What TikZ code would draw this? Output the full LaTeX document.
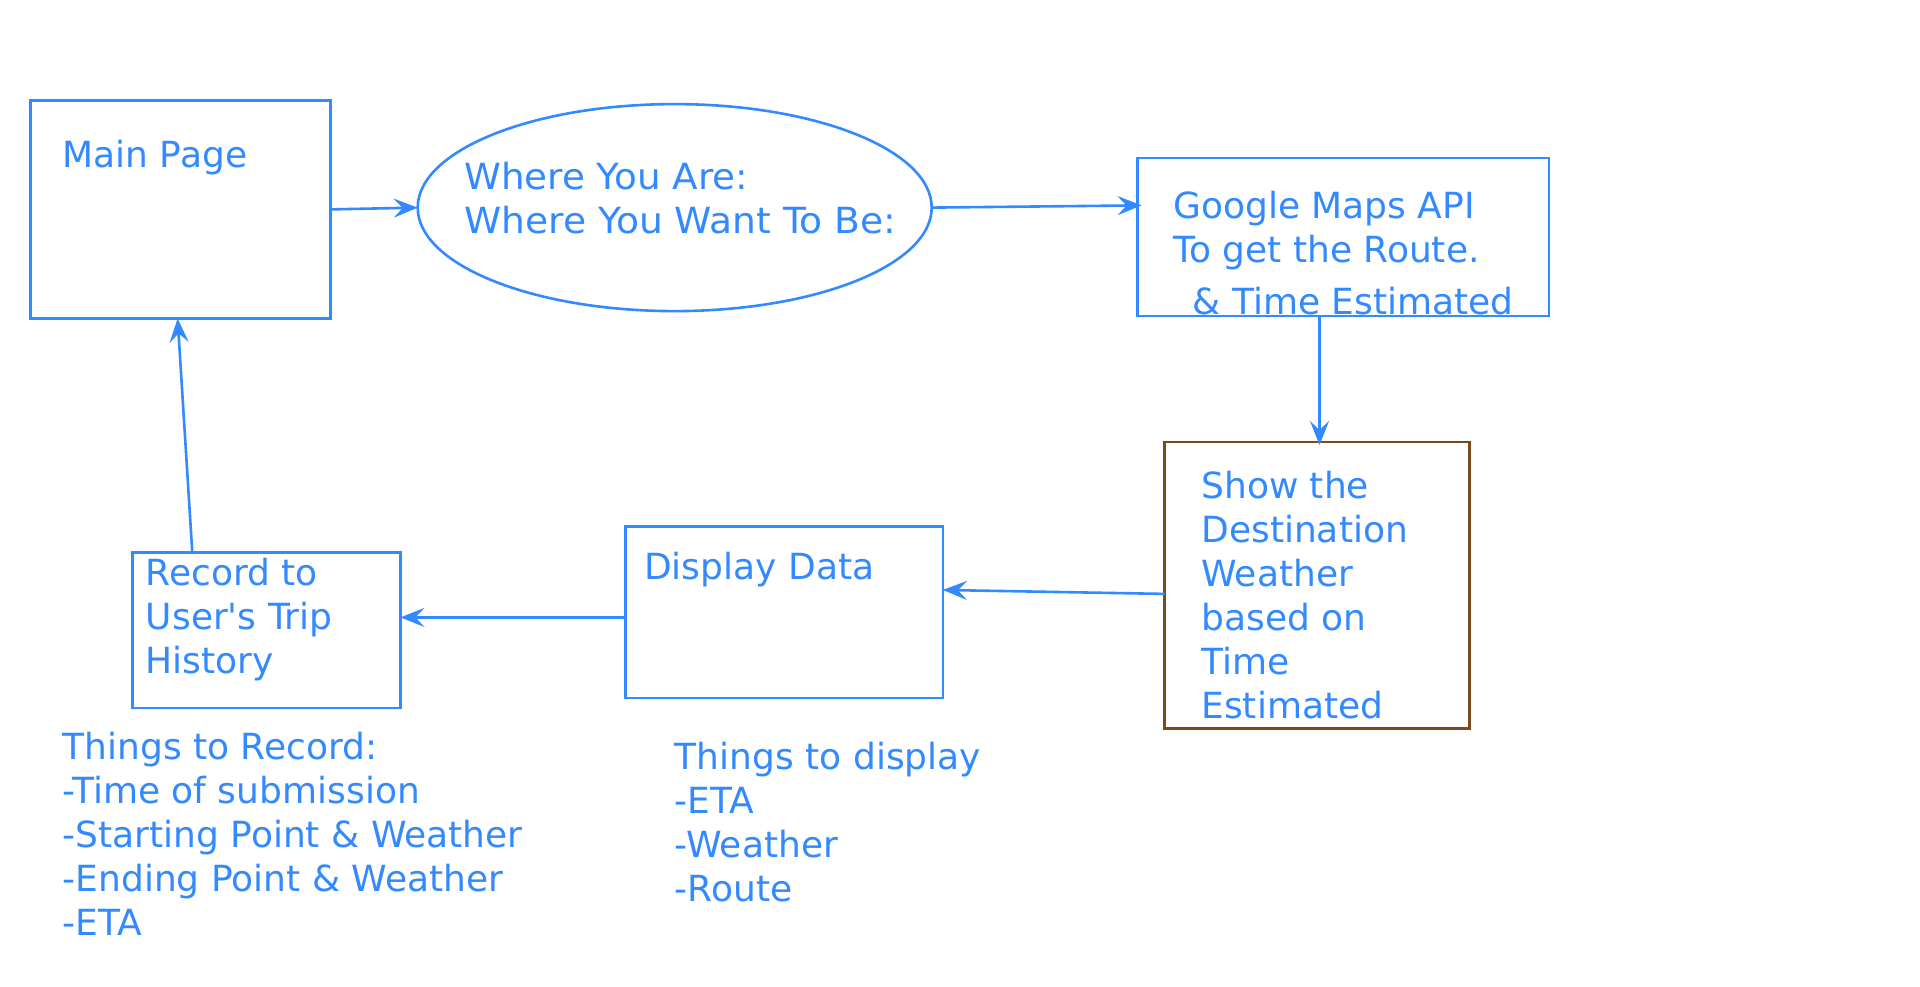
\documentclass[tikz,border=0pt]{standalone}
\usepackage{fontspec}
\setmainfont{DejaVu Sans}
\usetikzlibrary{arrows.meta,calc,shapes.geometric}
\definecolor{lblue}{HTML}{3389FF}
\definecolor{lbrown}{HTML}{7A4A18}
\tikzset{
  box/.style={draw=lblue, line width=2.6pt, rectangle, inner sep=0pt, outer sep=0pt, anchor=north west},
  lbl/.style={text=lblue, font=\fontsize{36}{44}\selectfont, inner sep=0pt, anchor=base west},
  conn/.style={draw=lblue, line width=2.6pt, -{Stealth[length=24pt,width=19pt,inset=9pt]}},
}
\begin{document}
\begin{tikzpicture}[x=1pt,y=-1pt]
\useasboundingbox (0,0) rectangle (1920,986);
\fill[white] (0,0) rectangle (1920,986);

% shapes
\node[box, minimum width=300pt, minimum height=218pt] (main) at (30.6,100.4) {};
\node[draw=lblue, line width=2.6pt, ellipse, minimum width=514pt, minimum height=207pt, inner sep=0pt, outer sep=0pt] (ell) at (674.7,207.6) {};
\node[box, minimum width=411.4pt, minimum height=158pt] (goo) at (1137.6,158) {};
\node[box, draw=lbrown, minimum width=305pt, minimum height=286.6pt] (show) at (1164.5,442) {};
\node[box, minimum width=317.2pt, minimum height=171.5pt] (disp) at (625.7,526.5) {};
\node[box, minimum width=268.2pt, minimum height=155.5pt] (rec) at (132.2,552.3) {};

% texts
\node[lbl] (tmain) at (62.4,167.8) {Main Page};
\node[lbl, xscale=1.035] (tell1) at (464,189.8) {Where You Are:};
\node[lbl, xscale=1.045] (tell2) at (464,233.8) {Where You Want To Be:};
\node[lbl] (tgoo1) at (1173,218) {Google Maps API};
\node[lbl] (tgoo2) at (1173,262) {To get the Route.};
\node[lbl] (tgoo3) at (1192.7,314.7) {\& Time Estimated};
\node[lbl] (tshow1) at (1201.2,498.4) {Show the};
\node[lbl] (tshow2) at (1201.2,542.4) {Destination};
\node[lbl] (tshow3) at (1201.2,586.4) {Weather};
\node[lbl] (tshow4) at (1201.2,630.4) {based on};
\node[lbl] (tshow5) at (1201.2,674.4) {Time};
\node[lbl] (tshow6) at (1201.2,718.4) {Estimated};
\node[lbl] (tdisp) at (644,579.2) {Display Data};
\node[lbl] (trec1) at (145.7,585.3) {Record to};
\node[lbl] (trec2) at (145.7,629.3) {User\textquotesingle s Trip};
\node[lbl] (trec3) at (145.7,673) {History};
\node[lbl] (tr1) at (62.4,759.2) {Things to Record:};
\node[lbl] (tr2) at (62.4,803.2) {-Time of submission};
\node[lbl] (tr3) at (62.4,847.2) {-Starting Point \& Weather};
\node[lbl] (tr4) at (62.4,891.2) {-Ending Point \& Weather};
\node[lbl] (tr5) at (62.4,935.2) {-ETA};
\node[lbl] (td1) at (674.7,769) {Things to display};
\node[lbl] (td2) at (674.7,813) {-ETA};
\node[lbl] (td3) at (674.7,857) {-Weather};
\node[lbl] (td4) at (674.7,901) {-Route};

% connectors
\draw[conn] (main.east) -- (ell.west);
\draw[conn, shorten >=-4pt] (ell.east) -- ($(goo.north west)!0.30!(goo.south west)$);
\coordinate (gs) at ([xshift=2.5pt]show.north);
\draw[conn, shorten >=-3pt] (gs |- goo.south) -- (gs);
\draw[conn] ($(show.north west)!0.53!(show.south west)$) -- ($(disp.north east)!0.37!(disp.south east)$);
\coordinate (dl) at ($(disp.north west)!0.53!(disp.south west)$);
\draw[conn] (dl) -- (rec.east |- dl);
\draw[conn] ($(rec.north west)!0.224!(rec.north east)$) -- ($(main.south west)!0.49!(main.south east)$);
\end{tikzpicture}
\end{document}
